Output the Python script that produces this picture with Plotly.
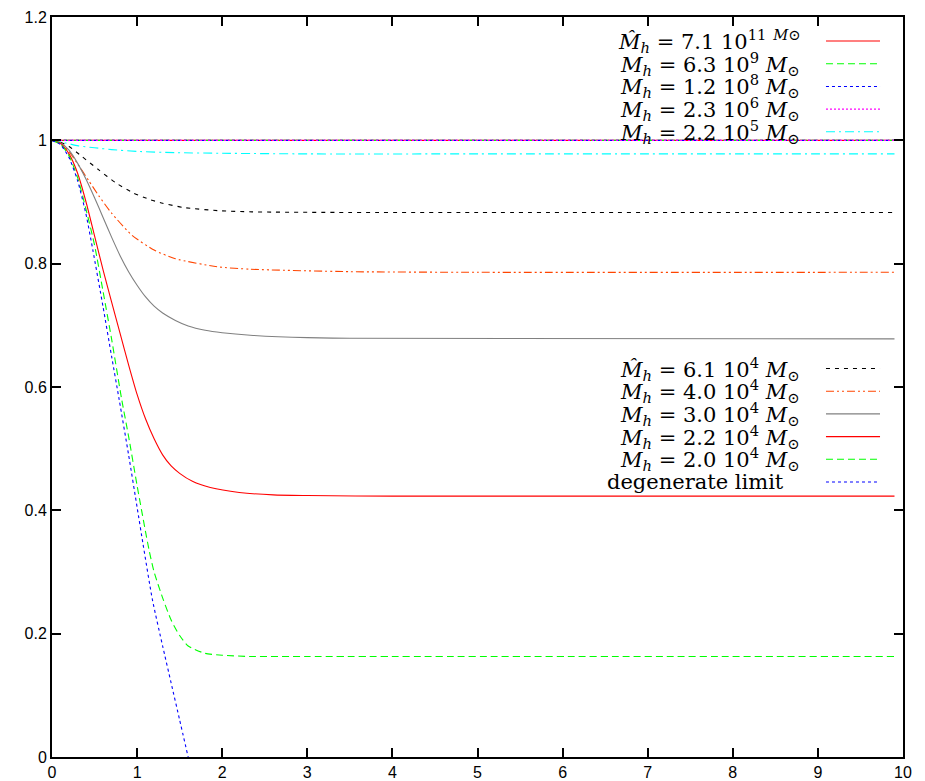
import plotly.graph_objects as go

# ---------------- data ----------------
x_flat = [0, 9.9]
y_flat = [1.0, 1.0]

x_cyan = [0, 0.15, 0.31, 0.5, 0.7, 1.0, 1.45, 2.0, 3.0, 5.0, 9.9]
y_cyan = [1.0, 0.996, 0.991, 0.988, 0.985, 0.982, 0.980, 0.979, 0.978, 0.978, 0.978]

x_black = [0, 0.1, 0.2, 0.35, 0.55, 0.75, 0.95, 1.15, 1.3, 1.55, 1.95, 2.35, 3.5, 5.0, 9.9]
y_black = [1.0, 0.997, 0.99, 0.974, 0.952, 0.931, 0.915, 0.904, 0.898, 0.891, 0.886, 0.884, 0.883, 0.883, 0.883]

x_orange = [0, 0.1, 0.2, 0.3, 0.43, 0.55, 0.7, 0.94, 1.2, 1.45, 1.94, 2.33, 3.5, 5.0, 9.9]
y_orange = [1.0, 0.995, 0.982, 0.962, 0.935, 0.91, 0.882, 0.846, 0.822, 0.808, 0.795, 0.791, 0.787, 0.786, 0.786]

x_gray = [0, 0.1, 0.2, 0.3, 0.4, 0.5, 0.6, 0.7, 0.8, 0.9, 1.0, 1.1, 1.2, 1.3, 1.45, 1.6, 1.8, 2.0, 2.33, 3.0, 3.5, 9.9]
y_gray = [1.0, 0.996, 0.984, 0.963, 0.937, 0.907, 0.875, 0.843, 0.813, 0.787, 0.765, 0.746, 0.731, 0.72, 0.708, 0.699, 0.692, 0.688, 0.684, 0.68, 0.679, 0.678]

x_red = [0, 0.1, 0.2, 0.3, 0.4, 0.5, 0.6, 0.7, 0.8, 0.9, 1.0, 1.1, 1.2, 1.3, 1.4, 1.5, 1.65, 1.86, 2.2, 2.6, 3.0, 4.0, 9.9]
y_red = [1.0, 0.995, 0.978, 0.947, 0.9, 0.845, 0.79, 0.738, 0.687, 0.636, 0.588, 0.548, 0.516, 0.49, 0.472, 0.46, 0.447, 0.437, 0.429, 0.425, 0.424, 0.423, 0.423]

x_green = [0, 0.1, 0.2, 0.3, 0.4, 0.5, 0.6, 0.7, 0.82, 0.9, 1.0, 1.14, 1.2, 1.3, 1.4, 1.5, 1.6, 1.8, 2.0, 2.33, 3.0, 9.9]
y_green = [1.0, 0.994, 0.975, 0.94, 0.888, 0.83, 0.755, 0.678, 0.579, 0.52, 0.44, 0.336, 0.3, 0.258, 0.222, 0.197, 0.18, 0.168, 0.165, 0.163, 0.163, 0.163]

x_degen = [0, 0.1, 0.2, 0.3, 0.4, 0.48, 0.6, 0.7, 0.79, 0.9, 1.0, 1.07, 1.18, 1.3, 1.4, 1.5, 1.6]
y_degen = [1.0, 0.993, 0.972, 0.935, 0.88, 0.822, 0.73, 0.65, 0.579, 0.49, 0.405, 0.345, 0.255, 0.18, 0.12, 0.06, 0.0]

x_ticks = [0, 1, 2, 3, 4, 5, 6, 7, 8, 9, 10]
y_ticks = [0, 0.2, 0.4, 0.6, 0.8, 1.0, 1.2]
y_ticklabels = ["0", "0.2", "0.4", "0.6", "0.8", "1", "1.2"]

MSUN = "<i>M</i><sub>⊙</sub>"
MH = "<i>M</i><sub><i>h</i></sub>"
MHAT = "<i>M̂</i><sub><i>h</i></sub>"

legend1 = [
    (MHAT + " = 7.1 10<sup>11</sup> <sup><i>M</i>⊙</sup>", "#ff0000", "solid"),
    (MH + " = 6.3 10<sup>9</sup> " + MSUN, "#00ff00", "7px,4px"),
    (MH + " = 1.2 10<sup>8</sup> " + MSUN, "#0000ff", "3px,3px"),
    (MH + " = 2.3 10<sup>6</sup> " + MSUN, "#ff00ff", "2px,2px"),
    (MH + " = 2.2 10<sup>5</sup> " + MSUN, "#00ffff", "9px,4px,2px,4px"),
]
legend2 = [
    (MHAT + " = 6.1 10<sup>4</sup> " + MSUN, "#000000", "4px,5px"),
    (MH + " = 4.0 10<sup>4</sup> " + MSUN, "#ff4500", "8px,3px,2px,3px,2px,3px"),
    (MH + " = 3.0 10<sup>4</sup> " + MSUN, "#808080", "solid"),
    (MH + " = 2.2 10<sup>4</sup> " + MSUN, "#ff0000", "solid"),
    (MH + " = 2.0 10<sup>4</sup> " + MSUN, "#00ff00", "7px,4px"),
    ("degenerate limit", "#0000ff", "3px,3px"),
]

series = [
    (x_flat, y_flat, legend1[0]),
    (x_flat, y_flat, legend1[1]),
    (x_flat, y_flat, legend1[2]),
    (x_flat, y_flat, legend1[3]),
    (x_cyan, y_cyan, legend1[4]),
    (x_black, y_black, legend2[0]),
    (x_orange, y_orange, legend2[1]),
    (x_gray, y_gray, legend2[2]),
    (x_red, y_red, legend2[3]),
    (x_green, y_green, legend2[4]),
    (x_degen, y_degen, legend2[5]),
]

fig = go.Figure()
for xs, ys, (name, col, dash) in series:
    fig.add_trace(go.Scatter(
        x=xs, y=ys, mode="lines", name=name, showlegend=False,
        line=dict(color=col, width=1.1, dash=dash, shape="spline", smoothing=0.6),
    ))

KEYFONT = dict(family="DejaVu Serif, Liberation Serif, serif", size=21, color="black")

# key (gnuplot style: text right aligned, sample on the right)
def add_key(entries, y0, dy):
    for i, (name, col, dash) in enumerate(entries):
        yy = y0 - i * dy
        xr = 8.81 if "<" in name else 8.63
        fig.add_annotation(x=xr, y=yy, xref="x", yref="y", text=name,
                           showarrow=False, xanchor="right", yanchor="middle",
                           font=KEYFONT)
        fig.add_shape(type="line", xref="x", yref="y", x0=9.095, x1=9.73, y0=yy, y1=yy,
                      line=dict(color=col, width=1.1, dash=dash))

add_key(legend1, 1.161, 0.0368)
add_key(legend2, 0.630, 0.0368)

axis_common = dict(
    showgrid=False, zeroline=False, showline=True, linecolor="black", linewidth=2,
    mirror="ticks", ticks="inside", ticklen=9, tickwidth=1.5, tickcolor="black",
    tickfont=dict(family="Liberation Sans, Arial, sans-serif", size=16, color="black"),
)
fig.update_xaxes(range=[0, 10], tickvals=x_ticks, ticktext=[str(v) for v in x_ticks], **axis_common)
fig.update_yaxes(range=[0, 1.2], tickvals=y_ticks, ticktext=y_ticklabels, **axis_common)

# page body adds an 8px offset; margins compensate so the frame sits where the reference has it
fig.update_layout(
    width=917, height=773,
    margin=dict(l=44, r=22, t=9, b=24, autoexpand=False),
    paper_bgcolor="white", plot_bgcolor="white",
    showlegend=False,
)

fig.write_html("out.html")
